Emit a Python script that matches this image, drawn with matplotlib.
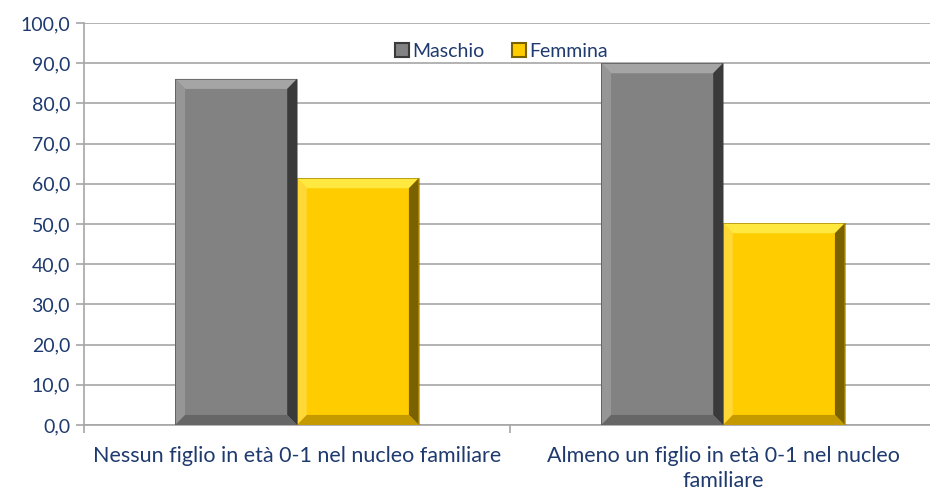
import numpy as np
import matplotlib.pyplot as plt
from matplotlib.patches import Polygon, Rectangle

categories = ["Nessun figlio in età 0-1 nel nucleo familiare",
              "Almeno un figlio in età 0-1 nel nucleo\nfamiliare"]
series = ["Maschio", "Femmina"]
maschio = [86.1, 90.0]
femmina = [61.4, 50.2]

TXT = "#1F3A6E"
GRID = "#A6A6A6"
STYLE = {
    "Maschio": dict(face="#828282", top="#A5A5A5", left="#969696", right="#3A3A3A", bottom="#666666"),
    "Femmina": dict(face="#FFCC00", top="#FFE840", left="#FFD835", right="#7A6200", bottom="#C49A00"),
}

plt.rcParams['font.family'] = ['Lato', 'DejaVu Sans']

fig = plt.figure(figsize=(9.3, 4.94), dpi=100)
ax = fig.add_axes([84 / 930, 1 - 425 / 494, 852 / 930, 402 / 494])

W = 1 / 3.5
BX = 0.023   # bevel width in category units
BY = 2.5     # bevel height in data units


def bevel_bar(x0, h, st):
    x1 = x0 + W
    ax.add_patch(Rectangle((x0, 0), W, h, facecolor=st["face"], edgecolor="none", zorder=3))
    ax.add_patch(Polygon([(x0, h), (x1, h), (x1 - BX, h - BY), (x0 + BX, h - BY)],
                         facecolor=st["top"], edgecolor="none", zorder=4))
    ax.add_patch(Polygon([(x0, 0), (x0, h), (x0 + BX, h - BY), (x0 + BX, BY)],
                         facecolor=st["left"], edgecolor="none", zorder=4))
    ax.add_patch(Polygon([(x1, 0), (x1, h), (x1 - BX, h - BY), (x1 - BX, BY)],
                         facecolor=st["right"], edgecolor="none", zorder=4))
    ax.add_patch(Polygon([(x0, 0), (x1, 0), (x1 - BX, BY), (x0 + BX, BY)],
                         facecolor=st["bottom"], edgecolor="none", zorder=4))
    ax.add_patch(Rectangle((x0, 0), W, h, facecolor="none", edgecolor=st["right"],
                           linewidth=0.6, alpha=0.6, zorder=5))


x = np.arange(len(categories))
for i in x:
    bevel_bar(i - W, maschio[i], STYLE["Maschio"])
    bevel_bar(i, femmina[i], STYLE["Femmina"])

ax.set_xlim(-0.5, 1.5)
ax.set_ylim(0, 100)
ax.set_yticks(np.arange(0, 101, 10))
ax.set_yticklabels([f"{v:.1f}".replace(".", ",") for v in range(0, 101, 10)],
                   fontsize=14, color=TXT)
ax.yaxis.grid(True, color=GRID, linewidth=1.2, zorder=0)
ax.set_axisbelow(True)

ax.set_xticks([-0.5, 0.5, 1.5])
ax.set_xticklabels([])
ax.set_xticks(x, minor=True)
ax.set_xticklabels(categories, minor=True, fontsize=15.5, color=TXT, linespacing=1.3)
ax.tick_params(axis="x", which="minor", length=0, pad=15)
ax.tick_params(axis="x", which="major", length=6, color=GRID, width=1.2)
ax.tick_params(axis="y", length=6, color=GRID, width=1.2, pad=4)

for s in ["top", "right"]:
    ax.spines[s].set_visible(False)
for s in ["left", "bottom"]:
    ax.spines[s].set_color(GRID)
    ax.spines[s].set_linewidth(1.2)

handles = [Rectangle((0, 0), 1, 1, facecolor=STYLE[s]["face"], edgecolor=STYLE[s]["right"], linewidth=1.5)
           for s in series]
leg = ax.legend(handles, series, loc="upper center", bbox_to_anchor=(0.49, 0.995), ncol=2,
                frameon=False, fontsize=14, handlelength=0.7, handleheight=0.7,
                handletextpad=0.2, columnspacing=1.4)
for t in leg.get_texts():
    t.set_color(TXT)

fig.savefig("out.png", dpi=100)
